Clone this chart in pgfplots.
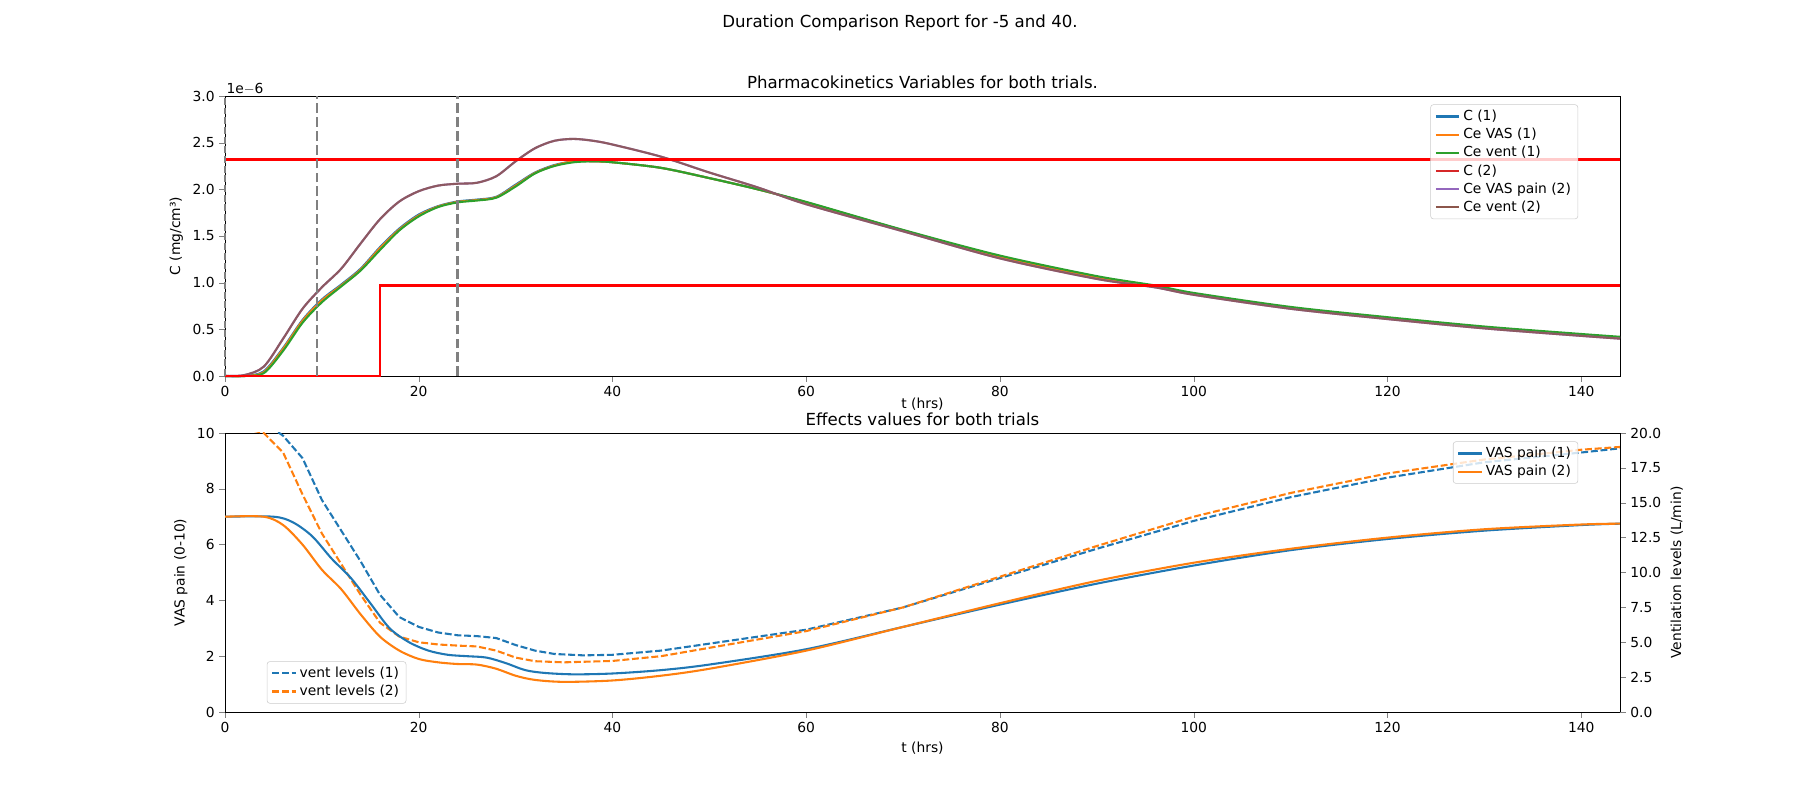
\documentclass[border=0pt]{standalone}
\usepackage{pgfplots}
\pgfplotsset{compat=1.18}
\usepackage{fontspec}
\setmainfont{DejaVu Sans}
\definecolor{c0}{HTML}{1F77B4}\definecolor{c1}{HTML}{FF7F0E}\definecolor{c2}{HTML}{2CA02C}
\definecolor{c3}{HTML}{D62728}\definecolor{c4}{HTML}{9467BD}\definecolor{c5}{HTML}{8C564B}
\pgfplotsset{mpl/.style={scale only axis,width=13.95in,xmin=0,xmax=144,xtick={0,20,...,140},
 tick align=outside,major tick length=4pt,
 /pgf/number format/assume math mode=true,
 tick label style={font=\fontsize{10}{12}\selectfont},
 label style={font=\fontsize{10}{12}\selectfont},
 title style={font=\fontsize{12}{14}\selectfont},
 legend style={font=\fontsize{10}{12}\selectfont,draw=black!20,rounded corners=2pt,fill=white,fill opacity=0.8,text opacity=1},
 legend cell align=left, every axis plot/.append style={line width=1.5pt}}}
\begin{document}
\begin{tikzpicture}
\useasboundingbox (0,0) rectangle (18in,8in);
\node at (9in,7.77in) {\fontsize{12}{14}\selectfont Duration Comparison Report for -5 and 40.};
\begin{axis}[mpl,tick pos=left,at={(2.25in,7.04in)},anchor=north west,height=2.8in,clip=false,
 ymin=0,ymax=3,ytick={0,0.5,...,3},yticklabel style={/pgf/number format/.cd,fixed,fixed zerofill,precision=1},
 xlabel={t (hrs)},ylabel={C (mg/cm³)},xlabel style={yshift=6pt},
 title={Pharmacokinetics Variables for both trials.},title style={yshift=-4pt},
 legend pos=north east]
\addplot[c0,smooth] coordinates {(0,0)(2,0)(4,0.05)(6,0.3)(8,0.6)(10,0.82)(12,0.98)(14,1.15)(16,1.38)(18,1.58)(20,1.73)(22,1.82)(24,1.87)(26,1.89)(28,1.92)(30,2.05)(32,2.18)(34,2.26)(36,2.3)(38,2.3)(40,2.29)(45,2.23)(50,2.12)(55,2.0)(60,1.86)(70,1.56)(80,1.28)(90,1.06)(96,0.96)(100,0.88)(110,0.73)(120,0.62)(130,0.52)(140,0.44)(144,0.41)};
\addlegendentry{C (1)}
\addplot[c1,smooth] coordinates {(0,0)(2,0)(4,0.04)(6,0.29)(8,0.59)(10,0.81)(12,0.97)(14,1.14)(16,1.37)(18,1.57)(20,1.72)(22,1.815)(24,1.865)(26,1.885)(28,1.915)(30,2.04)(32,2.175)(34,2.255)(36,2.3)(38,2.3)(40,2.29)(45,2.23)(50,2.12)(55,2.0)(60,1.86)(70,1.56)(80,1.28)(90,1.06)(96,0.96)(100,0.88)(110,0.73)(120,0.62)(130,0.52)(140,0.44)(144,0.41)};
\addlegendentry{Ce VAS (1)}
\addplot[c2,smooth] coordinates {(0,0)(2,0)(4,0.03)(6,0.27)(8,0.57)(10,0.79)(12,0.96)(14,1.13)(16,1.35)(18,1.56)(20,1.71)(22,1.81)(24,1.86)(26,1.88)(28,1.91)(30,2.03)(32,2.17)(34,2.25)(36,2.29)(38,2.3)(40,2.29)(45,2.23)(50,2.12)(55,2.0)(60,1.865)(70,1.565)(80,1.29)(90,1.07)(96,0.97)(100,0.89)(110,0.74)(120,0.63)(130,0.53)(140,0.45)(144,0.42)};
\addlegendentry{Ce vent (1)}
\addplot[c3] coordinates {(0,0)};
\addlegendentry{C (2)}
\addplot[c4] coordinates {(0,0)};
\addlegendentry{Ce VAS pain (2)}
\addplot[c5] coordinates {(0,0)};
\addlegendentry{Ce vent (2)}
\addplot[c4,smooth,forget plot] coordinates {(0,0)(2,0.01)(4,0.1)(6,0.4)(8,0.72)(10,0.95)(12,1.15)(14,1.42)(16,1.68)(18,1.87)(20,1.98)(22,2.04)(24,2.06)(26,2.07)(28,2.14)(30,2.3)(32,2.44)(34,2.52)(36,2.54)(38,2.52)(40,2.48)(45,2.35)(50,2.18)(55,2.02)(60,1.84)(70,1.55)(80,1.26)(90,1.04)(96,0.95)(100,0.87)(110,0.72)(120,0.61)(130,0.51)(140,0.43)(144,0.40)};
\addplot[c5,smooth,forget plot,opacity=0.8] coordinates {(0,0)(2,0.01)(4,0.1)(6,0.4)(8,0.72)(10,0.95)(12,1.15)(14,1.42)(16,1.68)(18,1.87)(20,1.98)(22,2.04)(24,2.06)(26,2.07)(28,2.14)(30,2.3)(32,2.44)(34,2.52)(36,2.54)(38,2.52)(40,2.48)(45,2.35)(50,2.18)(55,2.02)(60,1.84)(70,1.55)(80,1.26)(90,1.04)(96,0.95)(100,0.87)(110,0.72)(120,0.61)(130,0.51)(140,0.43)(144,0.40)};
\addplot[red,line width=2pt,forget plot] coordinates {(0,2.32)(144,2.32)};
\addplot[red,line width=2pt,forget plot] coordinates {(0,0)(16,0)(16,0.97)(144,0.97)};
\addplot[gray,line width=2pt,dash pattern=on 7pt off 3pt,forget plot] coordinates {(9.5,0)(9.5,3)};
\addplot[gray,line width=2pt,dash pattern=on 7pt off 3pt,forget plot] coordinates {(24,0)(24,3)};
\addplot[gray,line width=1pt,dash pattern=on 5pt off 2pt,forget plot] coordinates {(0,0)(0,3)};
\node[anchor=south west,font=\fontsize{10}{12}\selectfont,inner sep=1pt] at (rel axis cs:0,1) {1e$-$6};
\end{axis}
\begin{axis}[mpl,tick pos=left,at={(2.25in,3.67in)},anchor=north west,height=2.79in,
 ymin=0,ymax=10,ytick={0,2,...,10},xlabel={t (hrs)},ylabel={VAS pain (0-10)},
 title={Effects values for both trials},title style={yshift=-4pt},
 legend pos=south west]
\addplot[c0,dash pattern=on 5pt off 2pt] coordinates {(0,10.8)(4,10.4)(6,9.9)(8,9.1)(10,7.6)(12,6.5)(14,5.4)(16,4.2)(18,3.4)(20,3.05)(22,2.85)(24,2.75)(26,2.72)(28,2.65)(30,2.4)(32,2.2)(34,2.08)(37,2.03)(40,2.05)(45,2.2)(50,2.45)(60,2.95)(70,3.75)(80,4.8)(90,5.85)(100,6.85)(110,7.7)(120,8.4)(130,8.95)(140,9.3)(144,9.45)};
\addlegendentry{vent levels (1)}
\addplot[c1,dash pattern=on 5pt off 2pt] coordinates {(0,10.3)(4,10)(6,9.3)(8,7.8)(10,6.4)(12,5.3)(14,4.2)(16,3.2)(18,2.7)(20,2.5)(22,2.42)(24,2.38)(26,2.35)(28,2.2)(30,1.95)(32,1.82)(35,1.78)(40,1.83)(45,2.0)(50,2.3)(60,2.9)(70,3.75)(80,4.85)(90,5.95)(100,7.0)(110,7.85)(120,8.55)(130,9.05)(140,9.4)(144,9.5)};
\addlegendentry{vent levels (2)}
\addplot[c0,smooth,forget plot] coordinates {(0,7)(5,7)(7,6.8)(9,6.3)(11,5.5)(13,4.8)(15,3.9)(17,3.0)(19,2.5)(21,2.2)(23,2.05)(25,2.0)(27,1.95)(29,1.75)(31,1.5)(33,1.4)(36,1.35)(40,1.38)(45,1.5)(50,1.7)(60,2.25)(70,3.05)(80,3.85)(90,4.6)(100,5.25)(110,5.8)(120,6.2)(130,6.5)(140,6.7)(144,6.75)};
\addplot[c1,smooth,forget plot] coordinates {(0,7)(4,7)(6,6.7)(8,6.0)(10,5.1)(12,4.4)(14,3.5)(16,2.7)(18,2.2)(20,1.9)(22,1.78)(24,1.72)(26,1.7)(28,1.55)(30,1.3)(32,1.15)(35,1.08)(40,1.13)(45,1.3)(50,1.55)(60,2.2)(70,3.05)(80,3.9)(90,4.7)(100,5.35)(110,5.85)(120,6.25)(130,6.55)(140,6.72)(144,6.75)};
\end{axis}
\begin{axis}[mpl,at={(2.25in,3.67in)},anchor=north west,height=2.79in,
 axis x line=none,axis y line*=right,ytick pos=right,yticklabel pos=right,ymin=0,ymax=20,ytick={0,2.5,...,20},
 yticklabel style={/pgf/number format/.cd,fixed,fixed zerofill,precision=1},
 ylabel={Ventilation levels (L/min)},ylabel near ticks,legend pos=north east]
\addplot[c0] coordinates {(0,-5)}; \addlegendentry{VAS pain (1)}
\addplot[c1] coordinates {(0,-5)}; \addlegendentry{VAS pain (2)}
\end{axis}
\end{tikzpicture}
\end{document}
